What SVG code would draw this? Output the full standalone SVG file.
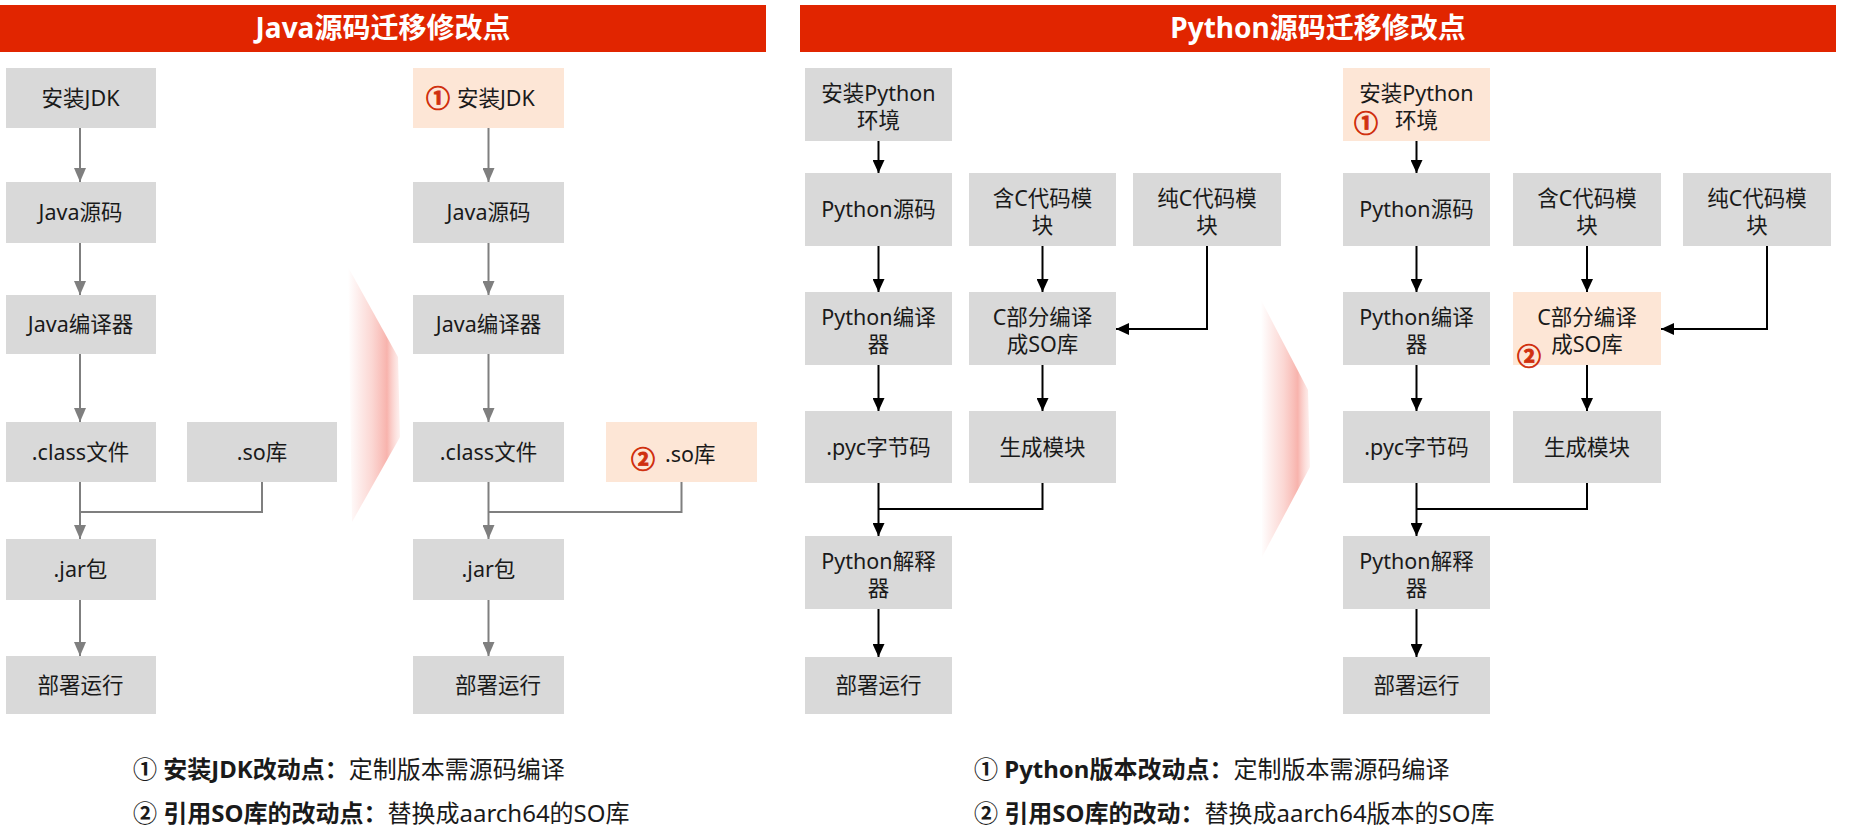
<svg xmlns="http://www.w3.org/2000/svg" width="1863" height="829" viewBox="0 0 1863 829">
<defs>
<style>
.box{fill:#D9D9D9}
.hl{fill:#FDE6D6}
.ban{fill:#E12500}
.ttl{font-family:"Noto Sans","Noto Sans CJK SC",sans-serif;font-size:28px;font-weight:bold;fill:#fff;text-anchor:middle}
.lbl{font-family:"Noto Sans","Noto Sans CJK SC",sans-serif;font-size:21.5px;fill:#1a1a1a;text-anchor:middle}
.num{font-family:"Noto Sans CJK SC","Noto Sans",sans-serif;font-size:24px;font-weight:bold;fill:#D0300F;stroke:#D0300F;stroke-width:0.9;text-anchor:middle}
.note{font-family:"Noto Sans","Noto Sans CJK SC",sans-serif;font-size:24px;fill:#1a1a1a}
.b{font-weight:bold}
.cg{fill:none;stroke:#7F7F7F;stroke-width:2}
.ck{fill:none;stroke:#000;stroke-width:2}
</style>
<marker id="ag" markerUnits="userSpaceOnUse" markerWidth="14" markerHeight="12" viewBox="0 0 14 12" refX="14" refY="6" orient="auto">
<path d="M0,0 L14,6 L0,12 Z" fill="#7F7F7F"/>
</marker>
<marker id="ak" markerUnits="userSpaceOnUse" markerWidth="13" markerHeight="12" viewBox="0 0 13 12" refX="13" refY="6" orient="auto">
<path d="M0,0 L13,6 L0,12 Z" fill="#000"/>
</marker>
<linearGradient id="fade" x1="0" y1="0" x2="1" y2="0">
<stop offset="0" stop-color="#F7A39B" stop-opacity="0"/>
<stop offset="0.45" stop-color="#F7A8A0" stop-opacity="0.45"/>
<stop offset="0.75" stop-color="#F6A098" stop-opacity="0.8"/>
<stop offset="1" stop-color="#FBD0CB" stop-opacity="0.3"/>
</linearGradient>
</defs>
<rect width="1863" height="829" fill="#fff"/>

<g id="banner-java">
<rect class="ban" x="0" y="5" width="766" height="47"/>
<text class="ttl" x="383" y="38">Java源码迁移修改点</text>
</g>
<g id="banner-python">
<rect class="ban" x="800" y="5" width="1036" height="47"/>
<text class="ttl" x="1318" y="38">Python源码迁移修改点</text>
</g>

<g id="fade-arrows">
<path d="M348,267 L398,357 L400,437 L352,522 Z" fill="url(#fade)"/>
<path d="M1261,300 L1308,390 L1310,467 L1262,557 Z" fill="url(#fade)"/>
</g>

<g id="connectors">
<path class="cg" marker-end="url(#ag)" d="M80,128 V182"/>
<path class="cg" marker-end="url(#ag)" d="M80,243 V295"/>
<path class="cg" marker-end="url(#ag)" d="M80,354 V422"/>
<path class="cg" marker-end="url(#ag)" d="M80,482 V539"/>
<path class="cg" d="M262,482 V512 H80"/>
<path class="cg" marker-end="url(#ag)" d="M80,600 V656"/>

<path class="cg" marker-end="url(#ag)" d="M488.5,128 V182"/>
<path class="cg" marker-end="url(#ag)" d="M488.5,243 V295"/>
<path class="cg" marker-end="url(#ag)" d="M488.5,354 V422"/>
<path class="cg" marker-end="url(#ag)" d="M488.5,482 V539"/>
<path class="cg" d="M681.5,482 V512 H488.5"/>
<path class="cg" marker-end="url(#ag)" d="M488.5,600 V656"/>

<path class="ck" marker-end="url(#ak)" d="M878.5,141 V173"/>
<path class="ck" marker-end="url(#ak)" d="M878.5,246 V292"/>
<path class="ck" marker-end="url(#ak)" d="M878.5,365 V411"/>
<path class="ck" marker-end="url(#ak)" d="M878.5,483 V536"/>
<path class="ck" d="M1042.5,483 V509 H878.5"/>
<path class="ck" marker-end="url(#ak)" d="M878.5,609 V657"/>
<path class="ck" marker-end="url(#ak)" d="M1042.5,246 V292"/>
<path class="ck" marker-end="url(#ak)" d="M1042.5,365 V411"/>
<path class="ck" marker-end="url(#ak)" d="M1207,246 V329 H1116"/>

<path class="ck" marker-end="url(#ak)" d="M1416.5,141 V173"/>
<path class="ck" marker-end="url(#ak)" d="M1416.5,246 V292"/>
<path class="ck" marker-end="url(#ak)" d="M1416.5,365 V411"/>
<path class="ck" marker-end="url(#ak)" d="M1416.5,483 V536"/>
<path class="ck" d="M1587,483 V509 H1416.5"/>
<path class="ck" marker-end="url(#ak)" d="M1416.5,609 V657"/>
<path class="ck" marker-end="url(#ak)" d="M1587,246 V292"/>
<path class="ck" marker-end="url(#ak)" d="M1587,365 V411"/>
<path class="ck" marker-end="url(#ak)" d="M1767,246 V329 H1661"/>
</g>

<!-- Java left -->
<g id="j1"><rect class="box" x="6" y="68" width="150" height="60"/><text class="lbl" x="80.5" y="105.5">安装JDK</text></g>
<g id="j2"><rect class="box" x="6" y="182" width="150" height="61"/><text class="lbl" x="80.5" y="220">Java源码</text></g>
<g id="j3"><rect class="box" x="6" y="295" width="150" height="59"/><text class="lbl" x="80.5" y="332">Java编译器</text></g>
<g id="j4"><rect class="box" x="6" y="422" width="150" height="60"/><text class="lbl" x="80.5" y="459.5">.class文件</text></g>
<g id="j5"><rect class="box" x="187" y="422" width="150" height="60"/><text class="lbl" x="262" y="459.5">.so库</text></g>
<g id="j6"><rect class="box" x="6" y="539" width="150" height="61"/><text class="lbl" x="80.5" y="577">.jar包</text></g>
<g id="j7"><rect class="box" x="6" y="656" width="150" height="58"/><text class="lbl" x="80.5" y="692.5">部署运行</text></g>

<!-- Java right -->
<g id="jr1"><rect class="hl" x="413" y="68" width="151" height="60"/><text class="num" x="438" y="106.5">①</text><text class="lbl" x="457" y="105.5" style="text-anchor:start">安装JDK</text></g>
<g id="jr2"><rect class="box" x="413" y="182" width="151" height="61"/><text class="lbl" x="488.5" y="220">Java源码</text></g>
<g id="jr3"><rect class="box" x="413" y="295" width="151" height="59"/><text class="lbl" x="488.5" y="332">Java编译器</text></g>
<g id="jr4"><rect class="box" x="413" y="422" width="151" height="60"/><text class="lbl" x="488.5" y="459.5">.class文件</text></g>
<g id="jr5"><rect class="hl" x="606" y="422" width="151" height="60"/><text class="num" x="643" y="468">②</text><text class="lbl" x="665" y="462" style="text-anchor:start">.so库</text></g>
<g id="jr6"><rect class="box" x="413" y="539" width="151" height="61"/><text class="lbl" x="488.5" y="577">.jar包</text></g>
<g id="jr7"><rect class="box" x="413" y="656" width="151" height="58"/><text class="lbl" x="498" y="692.5">部署运行</text></g>

<!-- Python left -->
<g id="p1"><rect class="box" x="805" y="68" width="147" height="73"/><text class="lbl" x="878.5" y="100.5">安装Python</text><text class="lbl" x="878.5" y="127.5">环境</text></g>
<g id="p2"><rect class="box" x="805" y="173" width="147" height="73"/><text class="lbl" x="878.5" y="217">Python源码</text></g>
<g id="p3"><rect class="box" x="969" y="173" width="147" height="73"/><text class="lbl" x="1042.5" y="205.5">含C代码模</text><text class="lbl" x="1042.5" y="232.5">块</text></g>
<g id="p4"><rect class="box" x="1133" y="173" width="148" height="73"/><text class="lbl" x="1207" y="205.5">纯C代码模</text><text class="lbl" x="1207" y="232.5">块</text></g>
<g id="p5"><rect class="box" x="805" y="292" width="147" height="73"/><text class="lbl" x="878.5" y="324.5">Python编译</text><text class="lbl" x="878.5" y="351.5">器</text></g>
<g id="p6"><rect class="box" x="969" y="292" width="147" height="73"/><text class="lbl" x="1042.5" y="324.5">C部分编译</text><text class="lbl" x="1042.5" y="351.5">成SO库</text></g>
<g id="p7"><rect class="box" x="805" y="411" width="147" height="72"/><text class="lbl" x="878.5" y="454.5">.pyc字节码</text></g>
<g id="p8"><rect class="box" x="969" y="411" width="147" height="72"/><text class="lbl" x="1042.5" y="454.5">生成模块</text></g>
<g id="p9"><rect class="box" x="805" y="536" width="147" height="73"/><text class="lbl" x="878.5" y="568.5">Python解释</text><text class="lbl" x="878.5" y="595.5">器</text></g>
<g id="p10"><rect class="box" x="805" y="657" width="147" height="57"/><text class="lbl" x="878.5" y="693">部署运行</text></g>

<!-- Python right -->
<g id="pr1"><rect class="hl" x="1343" y="68" width="147" height="73"/><text class="lbl" x="1416.5" y="100.5">安装Python</text><text class="num" x="1366" y="132">①</text><text class="lbl" x="1416.5" y="127.5">环境</text></g>
<g id="pr2"><rect class="box" x="1343" y="173" width="147" height="73"/><text class="lbl" x="1416.5" y="217">Python源码</text></g>
<g id="pr3"><rect class="box" x="1513" y="173" width="148" height="73"/><text class="lbl" x="1587" y="205.5">含C代码模</text><text class="lbl" x="1587" y="232.5">块</text></g>
<g id="pr4"><rect class="box" x="1683" y="173" width="148" height="73"/><text class="lbl" x="1757" y="205.5">纯C代码模</text><text class="lbl" x="1757" y="232.5">块</text></g>
<g id="pr5"><rect class="box" x="1343" y="292" width="147" height="73"/><text class="lbl" x="1416.5" y="324.5">Python编译</text><text class="lbl" x="1416.5" y="351.5">器</text></g>
<g id="pr6"><rect class="hl" x="1513" y="292" width="148" height="73"/><text class="lbl" x="1587" y="324.5">C部分编译</text><text class="lbl" x="1587" y="351.5">成SO库</text><text class="num" x="1529" y="365">②</text></g>
<g id="pr7"><rect class="box" x="1343" y="411" width="147" height="72"/><text class="lbl" x="1416.5" y="454.5">.pyc字节码</text></g>
<g id="pr8"><rect class="box" x="1513" y="411" width="148" height="72"/><text class="lbl" x="1587" y="454.5">生成模块</text></g>
<g id="pr9"><rect class="box" x="1343" y="536" width="147" height="73"/><text class="lbl" x="1416.5" y="568.5">Python解释</text><text class="lbl" x="1416.5" y="595.5">器</text></g>
<g id="pr10"><rect class="box" x="1343" y="657" width="147" height="57"/><text class="lbl" x="1416.5" y="693">部署运行</text></g>

<g id="notes-java">
<text class="note" x="133" y="777.5"><tspan class="b">① 安装JDK改动点：</tspan>定制版本需源码编译</text>
<text class="note" x="133" y="821.5"><tspan class="b">② 引用SO库的改动点：</tspan>替换成aarch64的SO库</text>
</g>
<g id="notes-python">
<text class="note" x="974" y="777.5"><tspan class="b">① Python版本改动点：</tspan>定制版本需源码编译</text>
<text class="note" x="974" y="821.5"><tspan class="b">② 引用SO库的改动：</tspan>替换成aarch64版本的SO库</text>
</g>
</svg>
